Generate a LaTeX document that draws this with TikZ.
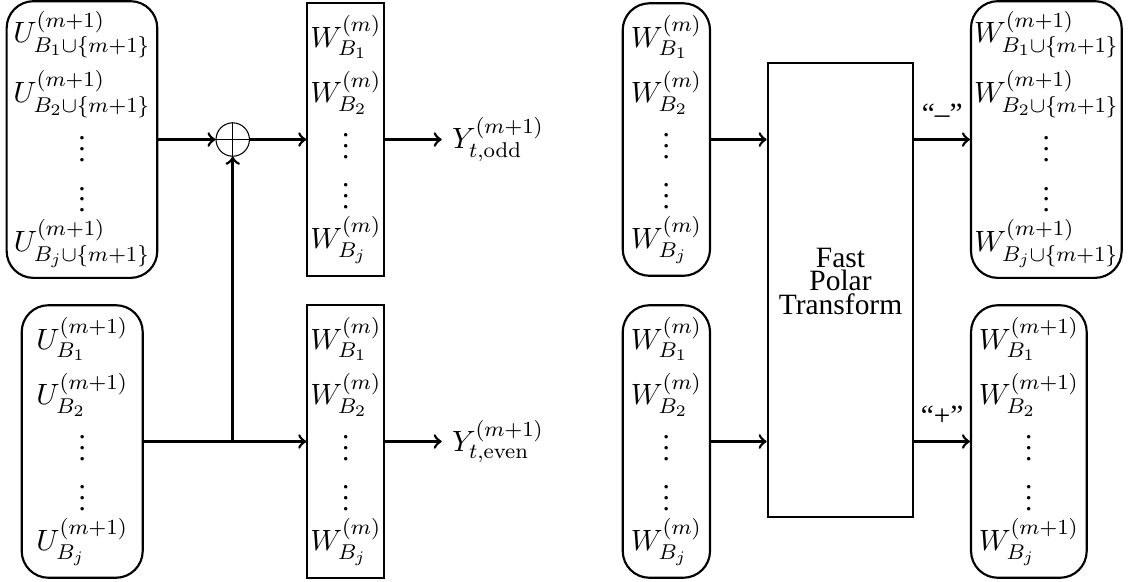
\documentclass[11pt,tikz,border=0pt]{standalone}
\usepackage[no-math]{fontspec}
\setmainfont{Liberation Serif}
\usepackage{tikz}

% one column of channels: first, second, dots, last
\newcommand{\colentries}[3]{$#1$\\[3.7pt]$#2$\\$\vdots$\\[2.5pt]$\vdots$\\[1.3pt]$#3$}

\begin{document}
\begin{tikzpicture}[
	roundbox/.style={draw, thick, rounded corners=10pt, minimum height=3.574cm, inner xsep=0pt, align=center},
	plainbox/.style={draw, thick, minimum height=3.574cm, inner xsep=0pt, align=center},
	flow/.style={->, line width=1pt}]
	\useasboundingbox (0,0) rectangle (15.016,7.62);
	
	% Odd branch on the left
	\node[roundbox, minimum width=1.975cm] (u1) at (1.075,5.79) {\colentries{U^{(m+1)}_{B_1\cup\{m+1\}}}{U^{(m+1)}_{B_2\cup\{m+1\}}}{U^{(m+1)}_{B_j\cup\{m+1\}}}};
	\node[draw, thin, circle, minimum size=0.438cm, inner sep=0pt] (xor) at (3.052,5.79) {};
	\draw[thin] (xor.north) -- (xor.south) (xor.west) -- (xor.east);
	\node[plainbox, minimum width=1.01cm] (w1) at (4.535,5.79) {\colentries{W^{(m)}_{B_1}}{W^{(m)}_{B_2}}{W^{(m)}_{B_j}}};
	\node[right] (yodd) at (5.793,5.79) {$Y^{(m+1)}_{t,\mathrm{odd}}$};
	
	% Even branch on the left
	\node[roundbox, minimum width=1.587cm] (u2) at (1.078,1.83) {\colentries{U^{(m+1)}_{B_1}}{U^{(m+1)}_{B_2}}{U^{(m+1)}_{B_j}}};
	\node[plainbox, minimum width=1.01cm] (w2) at (4.535,1.83) {\colentries{W^{(m)}_{B_1}}{W^{(m)}_{B_2}}{W^{(m)}_{B_j}}};
	\node[right] (yeven) at (5.793,1.83) {$Y^{(m+1)}_{t,\mathrm{even}}$};
	\coordinate (split) at (xor |- u2);
	
	% Connect the left half
	\draw[flow] (u1) -- (xor);
	\draw[flow] (xor) -- (w1);
	\draw[flow] (w1) -- (yodd);
	\draw[flow] (u2) -- (w2);
	\draw[flow] (split) -- (xor);
	\draw[flow] (w2) -- (yeven);
	
	% Polar transform on the right
	\node[roundbox, minimum width=1.145cm] (lw1) at (8.739,5.79) {\colentries{W^{(m)}_{B_1}}{W^{(m)}_{B_2}}{W^{(m)}_{B_j}}};
	\node[roundbox, minimum width=1.145cm] (lw2) at (8.739,1.83) {\colentries{W^{(m)}_{B_1}}{W^{(m)}_{B_2}}{W^{(m)}_{B_j}}};
	\node[draw, thick, minimum width=1.91cm, minimum height=5.954cm, align=center, text depth=7pt, font=\rmfamily\fontsize{11}{8.8}\selectfont] (fpt) at (11.023,3.812) {Fast\\Polar\\Transform};
	\node[roundbox, minimum width=1.976cm] (rw1) at (13.722,5.79) {\colentries{W^{(m+1)}_{B_1\cup\{m+1\}}}{W^{(m+1)}_{B_2\cup\{m+1\}}}{W^{(m+1)}_{B_j\cup\{m+1\}}}};
	\node[roundbox, minimum width=1.517cm] (rw2) at (13.493,1.83) {\colentries{W^{(m+1)}_{B_1}}{W^{(m+1)}_{B_2}}{W^{(m+1)}_{B_j}}};
	
	% Connect the right half
	\draw[flow] (lw1) -- (lw1 -| fpt.west);
	\draw[flow] (lw2) -- (lw2 -| fpt.west);
	\draw[flow] (rw1 -| fpt.east) -- node[above=2pt] (minus) {``--''} (rw1);
	\draw[flow] (rw2 -| fpt.east) -- node[above=2pt] (plus) {``+''} (rw2);
\end{tikzpicture}
\end{document}
